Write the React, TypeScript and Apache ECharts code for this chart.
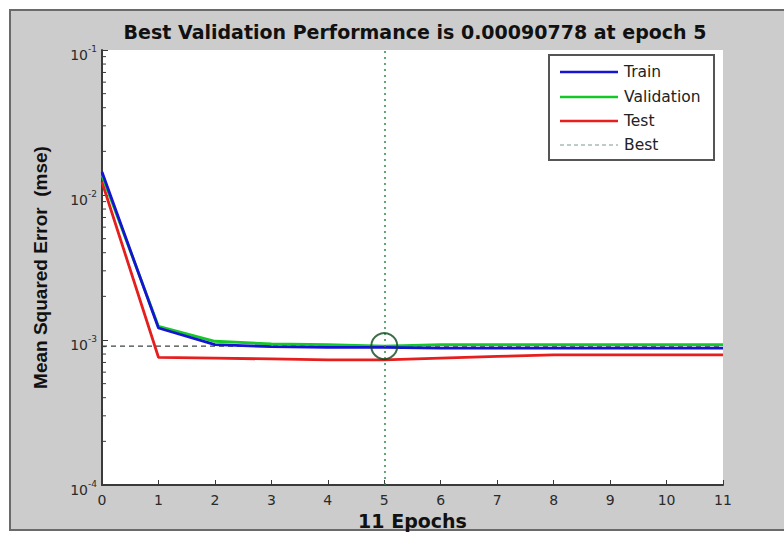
import React, { useEffect, useRef } from 'react';
import * as echarts from 'echarts';

const epochs = [0, 1, 2, 3, 4, 5, 6, 7, 8, 9, 10, 11];
const trainMse = [0.0144, 0.00121, 0.00093, 0.0009, 0.00089, 0.00089, 0.00088, 0.00088, 0.00088, 0.00088, 0.00088, 0.00088];
const validationMse = [0.0137, 0.00124, 0.00098, 0.00094, 0.00093, 0.00090778, 0.00093, 0.00093, 0.00093, 0.00093, 0.00093, 0.00093];
const testMse = [0.0123, 0.00076, 0.00075, 0.00074, 0.00073, 0.00073, 0.00075, 0.00077, 0.00079, 0.00079, 0.00079, 0.00079];
const bestEpoch = 5;
const bestMse = 0.00090778;
const seriesNames = ['Train', 'Validation', 'Test', 'Best'];
const yMinorTicks = [
  2e-4, 3e-4, 4e-4, 5e-4, 6e-4, 7e-4, 8e-4, 9e-4,
  2e-3, 3e-3, 4e-3, 5e-3, 6e-3, 7e-3, 8e-3, 9e-3,
  2e-2, 3e-2, 4e-2, 5e-2, 6e-2, 7e-2, 8e-2, 9e-2,
];
const titleText = 'Best Validation Performance is 0.00090778 at epoch 5';
const xName = '11 Epochs';
const yName = 'Mean Squared Error  (mse)';

const colors: Record<string, string> = {
  Train: '#1414d2',
  Validation: '#14c828',
  Test: '#e61e1e',
  Best: '#7f9a8c',
};

const pairs = (ys: number[]) => epochs.map((e, i) => [e, ys[i]]);

export default function App() {
  const ref = useRef<HTMLDivElement>(null);
  useEffect(() => {
    if (!ref.current) return;
    const chart = echarts.init(ref.current, undefined, { renderer: 'svg' });
    const axisColor = '#3a3a3a';
    const labelColor = '#2a2a2a';

    const legendLeft = 549;
    const legendTop = 55;
    const rowY = [72, 97, 121, 145];
    const legendGraphics: any[] = [
      {
        type: 'rect',
        z: 20,
        silent: true,
        shape: { x: legendLeft, y: legendTop, width: 165, height: 105 },
        style: { fill: '#ffffff', stroke: '#555555', lineWidth: 2 },
      },
    ];
    seriesNames.forEach((name, i) => {
      legendGraphics.push({
        type: 'line',
        z: 21,
        silent: true,
        shape: { x1: 560, y1: rowY[i], x2: 618, y2: rowY[i] },
        style: {
          stroke: colors[name],
          lineWidth: name === 'Best' ? 1.2 : 2.5,
          lineDash: name === 'Best' ? [4, 3] : null,
        },
      });
      legendGraphics.push({
        type: 'text',
        z: 21,
        silent: true,
        x: 624,
        y: rowY[i],
        style: {
          text: name,
          fill: '#222222',
          fontFamily: 'DejaVu Sans',
          fontSize: 15.5,
          verticalAlign: 'middle',
          align: 'left',
        },
      });
    });

    chart.setOption({
      animation: false,
      backgroundColor: '#ffffff',
      graphic: [
        {
          type: 'rect',
          z: -10,
          silent: true,
          shape: { x: 10, y: 10, width: 790, height: 520 },
          style: { fill: '#cccccc', stroke: '#6a6a6a', lineWidth: 2 },
        },
        ...legendGraphics,
      ],
      title: {
        text: titleText,
        left: 410,
        textAlign: 'center',
        top: 17,
        textStyle: { fontFamily: 'DejaVu Sans', fontWeight: 'bold', fontSize: 19, color: '#111' },
      },
      grid: {
        left: 102,
        right: 61,
        top: 50,
        bottom: 53,
        show: true,
        backgroundColor: '#ffffff',
        borderWidth: 0,
      },
      xAxis: {
        type: 'value',
        min: 0,
        max: 11,
        interval: 1,
        name: xName,
        nameLocation: 'middle',
        nameGap: 23,
        nameTextStyle: { fontFamily: 'DejaVu Sans', fontWeight: 'bold', fontSize: 19, color: '#111' },
        axisLine: { show: true, lineStyle: { color: axisColor, width: 2 } },
        axisTick: { show: true, inside: true, length: 5, lineStyle: { color: axisColor, width: 1 } },
        axisLabel: { fontFamily: 'DejaVu Sans', fontSize: 14, color: labelColor, margin: 8 },
        splitLine: { show: false },
      },
      yAxis: {
        type: 'log',
        logBase: 10,
        min: 1e-4,
        max: 1e-1,
        name: yName,
        nameLocation: 'middle',
        nameGap: 52,
        nameRotate: 90,
        nameTextStyle: { fontFamily: 'Liberation Sans', fontWeight: 'bold', fontSize: 19, color: '#111' },
        axisLine: { show: true, lineStyle: { color: axisColor, width: 2 } },
        axisTick: { show: true, inside: true, length: 6, lineStyle: { color: axisColor, width: 1 } },
        splitLine: { show: false },
        axisLabel: {
          margin: 5,
          color: labelColor,
          padding: [6, 0, 0, 0],
          formatter: (v: number) => `{b|10}{s|${Math.round(Math.log10(v))}}`,
          rich: {
            b: { fontFamily: 'DejaVu Sans', fontSize: 14, color: labelColor, padding: [3, 0, 0, 0] },
            s: { fontFamily: 'DejaVu Sans', fontSize: 9, color: labelColor, verticalAlign: 'top' },
          },
        },
      },
      series: [
        {
          type: 'custom',
          silent: true,
          clip: false,
          z: 5,
          data: yMinorTicks.map((v) => [0, v]),
          renderItem: (_params: any, api: any) => {
            const p = api.coord([0, api.value(1)]);
            return {
              type: 'line',
              shape: { x1: p[0], y1: p[1], x2: p[0] + 4, y2: p[1] },
              style: { stroke: axisColor, lineWidth: 1 },
            };
          },
        },
        {
          name: 'Best',
          type: 'line',
          symbol: 'none',
          data: [
            [epochs[0], bestMse],
            [epochs[epochs.length - 1], bestMse],
          ],
          lineStyle: { color: '#3c4440', width: 1.2, type: [5, 4] },
          markLine: {
            silent: true,
            symbol: 'none',
            label: { show: false },
            data: [{ xAxis: bestEpoch, lineStyle: { color: '#2e8b4a', width: 1.5, type: [2, 4] } }],
          },
          z: 1,
        },
        {
          name: 'Test',
          type: 'line',
          symbol: 'none',
          data: pairs(testMse),
          lineStyle: { color: colors.Test, width: 2.8 },
          z: 2,
        },
        {
          name: 'Validation',
          type: 'line',
          symbol: 'none',
          data: pairs(validationMse),
          lineStyle: { color: colors.Validation, width: 2.8 },
          z: 3,
        },
        {
          name: 'Train',
          type: 'line',
          symbol: 'none',
          data: pairs(trainMse),
          lineStyle: { color: colors.Train, width: 2.8 },
          z: 4,
        },
        {
          type: 'scatter',
          silent: true,
          data: [[bestEpoch, bestMse]],
          symbol: 'circle',
          symbolSize: 26,
          itemStyle: { color: 'rgba(0,0,0,0)', borderColor: '#0d4a1c', borderWidth: 2 },
          z: 6,
        },
      ],
    });
    return () => chart.dispose();
  }, []);
  return (
    <div
      ref={ref}
      style={{ position: 'absolute', left: 0, top: 0, width: 784, height: 538 }}
    />
  );
}
